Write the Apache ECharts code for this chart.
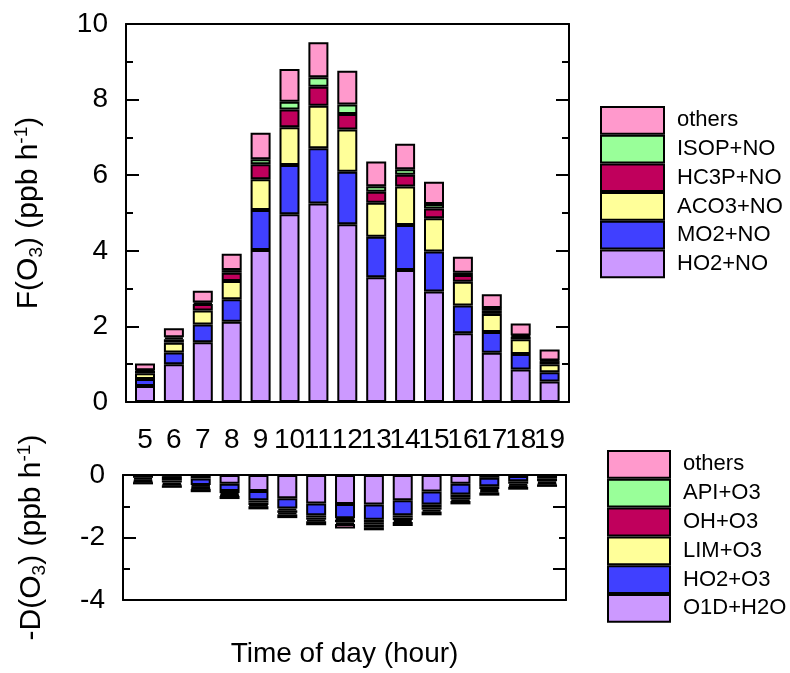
<!DOCTYPE html>
<html>
<head>
<meta charset="utf-8">
<script src="https://cdn.jsdelivr.net/npm/echarts@6/dist/echarts.min.js"></script>
<style>
  html, body { margin: 0; padding: 0; background: #fff; }
  #chart { width: 790px; height: 673px; }
</style>
</head>
<body>
<div id="chart"></div>
<script>
// Hour of day for each bar
const hours = ['5', '6', '7', '8', '9', '10', '11', '12', '13', '14', '15', '16', '17', '18', '19'];

// Ozone production terms F(O3), ppb h-1
const prodHO2NO  = [0.42, 1.00, 1.58, 2.12, 4.02, 4.97, 5.25, 4.70, 3.30, 3.49, 2.92, 1.82, 1.30, 0.86, 0.54];
const prodMO2NO  = [0.19, 0.31, 0.47, 0.60, 1.06, 1.30, 1.46, 1.39, 1.07, 1.19, 1.06, 0.73, 0.55, 0.41, 0.25];
const prodACO3NO = [0.15, 0.26, 0.37, 0.48, 0.81, 1.00, 1.13, 1.12, 0.90, 1.02, 0.88, 0.63, 0.48, 0.39, 0.21];
const prodHC3PNO = [0.06, 0.09, 0.17, 0.22, 0.40, 0.47, 0.50, 0.41, 0.29, 0.31, 0.26, 0.18, 0.10, 0.07, 0.08];
const prodISOPNO = [0.02, 0.05, 0.04, 0.07, 0.13, 0.20, 0.25, 0.25, 0.15, 0.15, 0.12, 0.06, 0.06, 0.03, 0.02];
const prodOthers = [0.18, 0.24, 0.31, 0.43, 0.70, 0.87, 0.93, 0.89, 0.65, 0.67, 0.59, 0.42, 0.36, 0.32, 0.29];

// Ozone destruction terms -D(O3), ppb h-1
const lossO1DH2O = [-0.02, -0.04, -0.11, -0.28, -0.51, -0.74, -0.91, -0.93, -0.94, -0.81, -0.53, -0.28, -0.09, -0.03, -0.02];
const lossHO2O3  = [-0.07, -0.13, -0.21, -0.23, -0.30, -0.33, -0.38, -0.45, -0.49, -0.48, -0.41, -0.34, -0.27, -0.17, -0.10];
const lossLIMO3  = [-0.06, -0.07, -0.05, -0.07, -0.07, -0.06, -0.07, -0.05, -0.08, -0.07, -0.09, -0.09, -0.09, -0.08, -0.08];
const lossOHO3   = [-0.05, -0.06, -0.05, -0.06, -0.08, -0.08, -0.07, -0.08, -0.08, -0.08, -0.08, -0.07, -0.06, -0.06, -0.06];
const lossAPIO3  = [-0.03, -0.03, -0.03, -0.03, -0.04, -0.05, -0.05, -0.06, -0.08, -0.06, -0.06, -0.05, -0.05, -0.04, -0.04];
const lossOthers = [-0.07, -0.08, -0.10, -0.10, -0.10, -0.12, -0.13, -0.14, -0.10, -0.13, -0.12, -0.11, -0.10, -0.09, -0.08];

const prodNames = ['HO2+NO', 'MO2+NO', 'ACO3+NO', 'HC3P+NO', 'ISOP+NO', 'others'];
const lossNames = ['O1D+H2O', 'HO2+O3', 'LIM+O3', 'OH+O3', 'API+O3', 'others'];
const palette = ['#CC99FF', '#4040FF', '#FFFF99', '#C0005C', '#99FF99', '#FF99CC'];

const FONT = "'Liberation Sans', Arial, sans-serif";
const BLACK = '#000';

// Grid 0/2 carry the boxed frames, ticks and titles; grid 1/3 hold the bars.
function barSeries(name, values, idx, axisIdx, stack) {
  return {
    type: 'bar',
    name: name,
    stack: stack,
    xAxisIndex: axisIdx,
    yAxisIndex: axisIdx,
    barWidth: 20,
    data: values,
    itemStyle: { color: palette[idx], borderColor: BLACK, borderWidth: 2 },
    emphasis: { disabled: true }
  };
}

const line = { show: true, onZero: false, lineStyle: { color: BLACK, width: 2 } };
const tickStyle = { color: BLACK, width: 2 };

function frameX(gridIndex, position, extra) {
  return Object.assign({
    type: 'value', gridIndex: gridIndex, position: position, min: 0, max: 1,
    axisLine: line, axisTick: { show: false }, axisLabel: { show: false },
    splitLine: { show: false }
  }, extra || {});
}

function barX(gridIndex, showLabels) {
  return {
    type: 'category', gridIndex: gridIndex, data: hours,
    axisLine: { show: false, onZero: false }, axisTick: { show: false },
    axisLabel: showLabels
      ? { show: true, interval: 0, hideOverlap: false, fontSize: 28, fontFamily: FONT, color: BLACK, margin: 24 }
      : { show: false },
    splitLine: { show: false }
  };
}

function hiddenY(gridIndex, min, max) {
  return {
    type: 'value', gridIndex: gridIndex, min: min, max: max,
    axisLine: { show: false, onZero: false }, axisTick: { show: false },
    axisLabel: { show: false }, splitLine: { show: false }
  };
}

function frameY(gridIndex, position, min, max, majorLen, minorLen, extra) {
  return Object.assign({
    type: 'value', gridIndex: gridIndex, position: position, min: min, max: max, interval: 2,
    axisLine: line,
    axisTick: { show: true, inside: true, length: majorLen, lineStyle: tickStyle },
    minorTick: { show: true, splitNumber: 2, length: minorLen, lineStyle: tickStyle },
    axisLabel: { show: false },
    splitLine: { show: false }
  }, extra || {});
}

const richName = {
  sub: { fontSize: 19, fontFamily: FONT, color: BLACK, lineHeight: 19, verticalAlign: 'bottom' },
  sup: { fontSize: 19, fontFamily: FONT, color: BLACK, lineHeight: 19, verticalAlign: 'top' }
};

const tickLabel = { show: true, fontSize: 28, fontFamily: FONT, color: BLACK, margin: 18 };

const option = {
  animation: false,
  backgroundColor: '#fff',
  textStyle: { fontFamily: FONT, color: BLACK },
  grid: [
    { left: 126, top: 24, width: 443, height: 378 },
    { left: 130.55, top: 24, width: 433.5, height: 378 },
    { left: 123, top: 475, width: 443, height: 125 },
    { left: 128.57, top: 475, width: 432.9, height: 125 }
  ],
  xAxis: [
    barX(1, true),
    barX(3, false),
    frameX(0, 'bottom'),
    frameX(0, 'top'),
    frameX(2, 'bottom', {
      name: 'Time of day (hour)', nameLocation: 'middle', nameGap: 40,
      nameTextStyle: { fontSize: 28, fontFamily: FONT, color: BLACK }
    }),
    frameX(2, 'top')
  ],
  yAxis: [
    hiddenY(1, 0, 10),
    hiddenY(3, -4, 0),
    frameY(0, 'left', 0, 10, 13, 7, {
      axisLabel: tickLabel,
      name: 'F(O{sub|3}) (ppb h{sup|-1})', nameLocation: 'middle', nameGap: 80,
      nameTextStyle: { fontSize: 30, fontFamily: FONT, color: BLACK, lineHeight: 34, rich: richName }
    }),
    frameY(0, 'right', 0, 10, 13, 7),
    frameY(2, 'left', -4, 0, 13, 7, {
      axisLabel: tickLabel,
      name: '-D(O{sub|3}) (ppb h{sup|-1})', nameLocation: 'middle', nameGap: 74,
      nameTextStyle: { fontSize: 30, fontFamily: FONT, color: BLACK, lineHeight: 34, rich: richName }
    }),
    frameY(2, 'right', -4, 0, 7, 13)
  ],
  legend: [
    {
      orient: 'vertical', left: 600, top: 106, padding: 0, itemGap: 0,
      itemWidth: 63, itemHeight: 26.7, icon: 'rect', selectedMode: false,
      data: prodNames.slice().reverse(),
      itemStyle: { borderColor: BLACK, borderWidth: 2 },
      textStyle: { fontSize: 22, fontFamily: FONT, color: BLACK, padding: [0, 0, 0, 8] }
    },
    {
      orient: 'vertical', left: 607, top: 450, padding: 0, itemGap: 0,
      itemWidth: 62, itemHeight: 26.8, icon: 'rect', selectedMode: false,
      data: lossNames.slice().reverse(),
      itemStyle: { borderColor: BLACK, borderWidth: 2 },
      textStyle: { fontSize: 22, fontFamily: FONT, color: BLACK, padding: [0, 0, 0, 8] }
    }
  ],
  series: [
    barSeries(prodNames[0], prodHO2NO, 0, 0, 'prod'),
    barSeries(prodNames[1], prodMO2NO, 1, 0, 'prod'),
    barSeries(prodNames[2], prodACO3NO, 2, 0, 'prod'),
    barSeries(prodNames[3], prodHC3PNO, 3, 0, 'prod'),
    barSeries(prodNames[4], prodISOPNO, 4, 0, 'prod'),
    barSeries(prodNames[5], prodOthers, 5, 0, 'prod'),
    barSeries(lossNames[0], lossO1DH2O, 0, 1, 'loss'),
    barSeries(lossNames[1], lossHO2O3, 1, 1, 'loss'),
    barSeries(lossNames[2], lossLIMO3, 2, 1, 'loss'),
    barSeries(lossNames[3], lossOHO3, 3, 1, 'loss'),
    barSeries(lossNames[4], lossAPIO3, 4, 1, 'loss'),
    barSeries(lossNames[5], lossOthers, 5, 1, 'loss')
  ]
};

const chart = echarts.init(document.getElementById('chart'), null, { renderer: 'canvas' });
chart.setOption(option);
</script>
</body>
</html>
